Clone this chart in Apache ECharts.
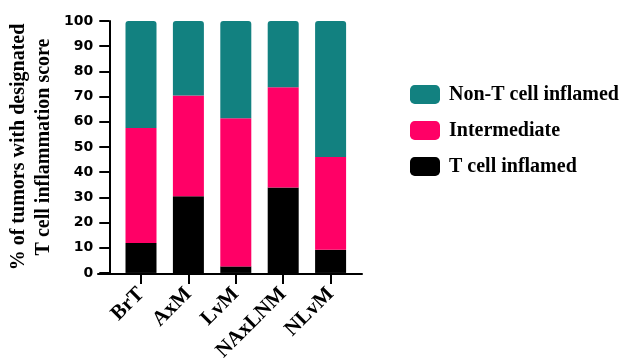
<!DOCTYPE html>
<html>
<head>
<meta charset="utf-8">
<script src="https://cdn.jsdelivr.net/npm/echarts@6/dist/echarts.min.js"></script>
<style>
  html, body { margin: 0; padding: 0; background: #fff; }
  #chart { width: 623px; height: 364px; }
</style>
</head>
<body>
<div id="chart"></div>
<script>
// Tumor sites
const categories = ['BrT', 'AxM', 'LvM', 'NAxLNM', 'NLvM'];

// Share of tumors (%) in each inflammation class, stacked bottom to top
const tCellInflamed = [11.9, 30.4, 2.6, 33.9, 9.2];
const intermediate = [45.6, 40.0, 58.8, 39.8, 36.8];
const nonTCellInflamed = [42.5, 29.6, 38.6, 26.3, 54.0];

const yTicks = [0, 10, 20, 30, 40, 50, 60, 70, 80, 90, 100];

const seriesNames = ['T cell inflamed', 'Intermediate', 'Non-T cell inflamed'];
const seriesColors = ['#000000', '#FF0066', '#128180'];

const serif = '"Liberation Serif", "Times New Roman", serif';
const sans = '"DejaVu Sans", sans-serif';

const chart = echarts.init(document.getElementById('chart'), null, { renderer: 'canvas' });

const seriesData = [tCellInflamed, intermediate, nonTCellInflamed];

chart.setOption({
  animation: false,
  backgroundColor: '#ffffff',
  grid: [
    // plotting area for the bars
    { left: 117.3, right: 268.7, top: 21, bottom: 90.7, containLabel: false },
    // wider strip carrying the baseline of the x axis
    { left: 98, right: 261, top: 21, bottom: 90.7, containLabel: false }
  ],
  legend: {
    data: [seriesNames[2], seriesNames[1], seriesNames[0]],
    orient: 'vertical',
    left: 405,
    top: 79.5,
    itemWidth: 30,
    itemHeight: 19,
    itemGap: 16,
    icon: 'roundRect',
    textStyle: { fontFamily: serif, fontWeight: 'bold', fontSize: 20, color: '#000', padding: [0, 0, 0, 4] },
    selectedMode: false
  },
  xAxis: [
    {
      type: 'category',
      gridIndex: 0,
      data: categories,
      axisLine: { show: false },
      axisTick: { show: true, alignWithLabel: true, length: 11, lineStyle: { color: '#000', width: 2 } },
      axisLabel: {
        rotate: 45,
        margin: 18,
        interval: 0,
        color: '#000',
        fontFamily: serif,
        fontWeight: 'bold',
        fontSize: 21
      }
    },
    {
      type: 'value',
      gridIndex: 1,
      min: 0,
      max: 1,
      axisLine: { show: true, onZero: false, lineStyle: { color: '#000', width: 2 } },
      axisTick: { show: false },
      axisLabel: { show: false },
      splitLine: { show: false }
    }
  ],
  yAxis: [
    {
      type: 'value',
      gridIndex: 0,
      min: yTicks[0],
      max: yTicks[yTicks.length - 1],
      interval: 10,
      offset: 8,
      name: '% of tumors with designated\nT cell inflammation score',
      nameLocation: 'middle',
      nameRotate: 90,
      nameGap: 53,
      nameTextStyle: { fontFamily: serif, fontWeight: 'bold', fontSize: 20, color: '#000', lineHeight: 25 },
      axisLine: { show: true, lineStyle: { color: '#000', width: 2 } },
      axisTick: { show: true, length: 10, lineStyle: { color: '#000', width: 2 } },
      axisLabel: { margin: 16, color: '#000', fontFamily: sans, fontWeight: 'bold', fontSize: 14 },
      splitLine: { show: false }
    },
    {
      type: 'value',
      gridIndex: 1,
      show: false,
      min: 0,
      max: 1
    }
  ],
  series: seriesData.map((values, i) => ({
    name: seriesNames[i],
    type: 'bar',
    xAxisIndex: 0,
    yAxisIndex: 0,
    stack: 'total',
    barWidth: 31,
    data: values,
    itemStyle: {
      color: seriesColors[i],
      borderRadius: i === 2 ? [3, 3, 0, 0] : 0
    }
  }))
});
</script>
</body>
</html>
